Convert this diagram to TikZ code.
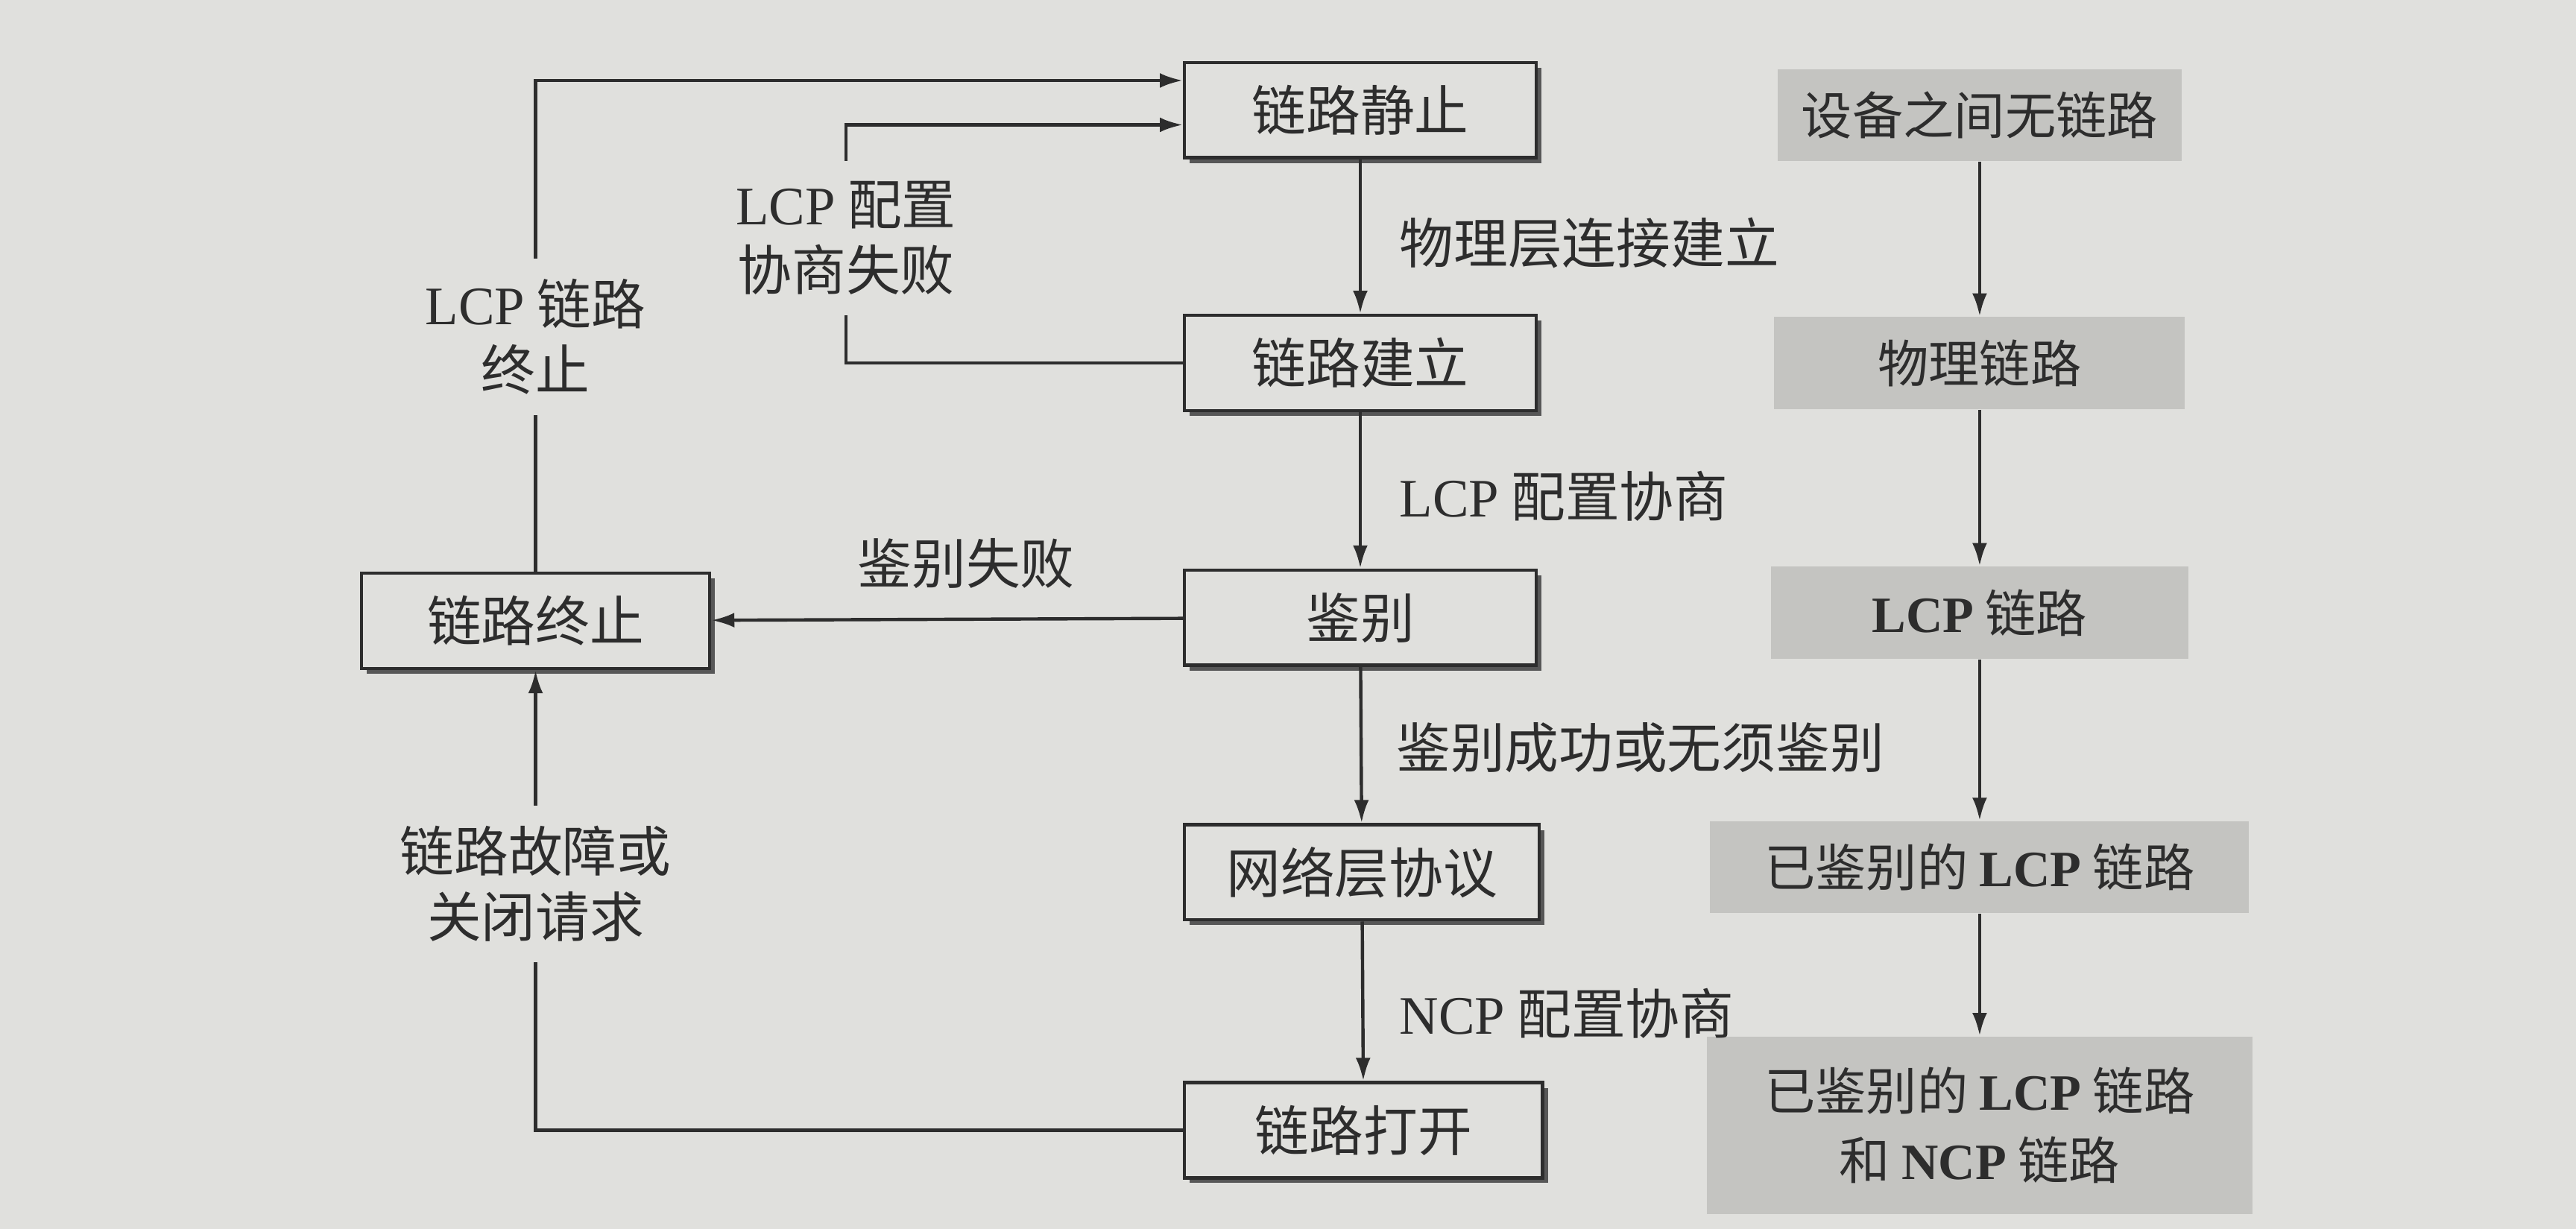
\documentclass[tikz,border=0pt]{standalone}
\usepackage{fontspec}
\setmainfont{Liberation Serif}
\newfontfamily\cjk{Noto Sans CJK SC}
\usetikzlibrary{arrows.meta,shadows}
\definecolor{paper}{RGB}{224,224,221}
\definecolor{ink}{RGB}{45,45,45}
\definecolor{tint}{RGB}{196,196,193}
\newcommand{\en}[1]{{\rmfamily #1}}
\newcommand{\enb}[1]{{\rmfamily\bfseries #1}}
\begin{document}
\begin{tikzpicture}[x=0.5pt,y=0.5pt,yscale=-1,xscale=1,
  state/.style={draw=ink,line width=1pt,fill=paper,minimum width=107pt,minimum height=29pt,inner sep=0pt,
    font=\cjk\fontsize{16.5}{20}\selectfont,text=ink,
    drop shadow={shadow xshift=1.6pt,shadow yshift=-1.6pt,fill=ink!80,opacity=1}},
  phase/.style={fill=tint,minimum height=28pt,inner sep=0pt,align=center,
    font=\cjk\fontsize{15.5}{21}\selectfont,text=ink},
  cond/.style={font=\cjk\fontsize{16.5}{20}\selectfont,text=ink,align=center,inner sep=0.75pt},
  gap/.style={cond,inner sep=6pt},
  link/.style={draw=ink,line width=1pt},
  go/.style={link,-{Latex[length=7pt,width=4.5pt]}}]
%uncomment if require: \path (0,748); %set diagram left start at 0, and has height of 748
\fill[paper] (0,0) rectangle (1568,748);
%Shape: Rectangle [states]
\node[state] (quiet) at (828,67) {链路静止};
\node[state] (estab) at (828,221) {链路建立};
\node[state] (auth) at (828,376) {鉴别};
\node[state,minimum width=108pt] (netw) at (829,531) {网络层协议};
\node[state,minimum width=109pt] (open) at (830,688) {链路打开};
\node[state,minimum width=106pt] (term) at (326,378) {链路终止};
%Shape: Rectangle [phases]
\node[phase,minimum width=123pt] (none) at (1205,70) {设备之间无链路};
\node[phase,minimum width=125pt] (phys) at (1205,221) {物理链路};
\node[phase,minimum width=127pt] (lcp) at (1205,373) {\enb{LCP} 链路};
\node[phase,minimum width=164pt] (lcpok) at (1205,528) {已鉴别的 \enb{LCP} 链路};
\node[phase,minimum width=166pt,minimum height=54pt] (ncpok) at (1205,685) {已鉴别的 \enb{LCP} 链路\\和 \enb{NCP} 链路};
% Text Node
\node[cond,anchor=west] (l-phys) at (850,148) {物理层连接建立};
\node[cond,anchor=west] (l-lcp) at (850,302) {\en{LCP} 配置协商};
\node[cond,anchor=west] (l-auth) at (848,455) {鉴别成功或无须鉴别};
\node[cond,anchor=west] (l-ncp) at (850,617) {\en{NCP} 配置协商};
\node[cond] (l-fail) at (588,343) {鉴别失败};
\node[gap] (l-term) at (326,205) {\en{LCP} 链路\\终止};
\node[gap] (l-cfg) at (515,145) {\en{LCP} 配置\\协商失败};
\node[gap] (l-close) at (326,538) {链路故障或\\关闭请求};
%Straight Lines [down the states]
\draw[go] (quiet) -- (estab);
\draw[go] (estab) -- (auth);
\draw[go] (auth) -- (netw);
\draw[go] (netw) -- (open);
\draw[go] (auth) -- (term);
%Straight Lines [phases]
\foreach \a/\b in {none/phys,phys/lcp,lcp/lcpok,lcpok/ncpok}
  \draw[go] (\a) -- (\b);
%Straight Lines [loops back]
\coordinate (up-hi) at (700,49);
\coordinate (up-lo) at (700,76);
\draw[link] (term) -- (l-term);
\draw[go] (l-term) |- (quiet.west |- up-hi);
\draw[link] (estab.west) -| (l-cfg);
\draw[go] (l-cfg) |- (quiet.west |- up-lo);
\draw[link] (open) -| (l-close);
\draw[go] (l-close) -- (term);
\end{tikzpicture}
\end{document}
